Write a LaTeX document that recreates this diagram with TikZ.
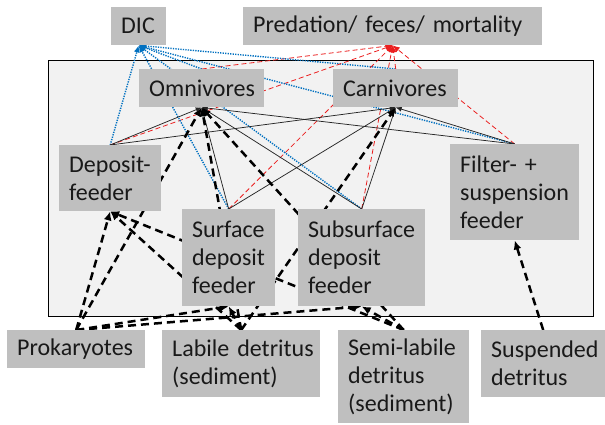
\documentclass[tikz,border=0pt]{standalone}
\usepackage{fontspec}
\setmainfont{Carlito}
\usetikzlibrary{arrows.meta}
\definecolor{boxgray}{RGB}{191,191,191}
\definecolor{zonegray}{RGB}{242,242,242}
\definecolor{dicblue}{RGB}{0,112,192}
\definecolor{predred}{RGB}{235,30,30}
\pgfdeclarelayer{back}
\pgfdeclarelayer{links}
\pgfsetlayers{back,links,main}
\begin{document}
\begin{tikzpicture}[x=1pt,y=-1pt,
  box/.style={fill=boxgray, anchor=north west, inner xsep=10pt, inner ysep=0pt,
    align=left, font=\fontsize{24}{28}\selectfont, text=black!90},
  resp/.style={dicblue, line width=1.4pt, dash pattern=on 1.3pt off 1.2pt,
    -{Latex[length=7pt,width=6pt]}},
  pred/.style={predred, line width=0.8pt, dash pattern=on 5pt off 3pt,
    -{Latex[length=7pt,width=6pt]}},
  eat/.style={black!85, line width=0.75pt, -{Latex[length=6pt,width=5pt]}},
  feed/.style={black, line width=2.5pt, dash pattern=on 8pt off 5pt,
    -{Latex[length=9pt,width=8pt]}},
]
\useasboundingbox (0,0) rectangle (605,424);

\begin{pgfonlayer}{back}
\node[draw=black, line width=1pt, fill=zonegray, anchor=north west,
  minimum width=545pt, minimum height=256pt, inner sep=0pt] (zone) at (48,60) {};
\end{pgfonlayer}

\node[box, text width=35pt, minimum height=38pt] (dic) at (111,7) {DIC};
\node[box, text width=279pt, minimum height=38pt] (pfm) at (243,7) {Predation/ feces/ mortality};
\node[box, text width=105pt, minimum height=38pt] (omni) at (139,69) {Omnivores};
\node[box, text width=105pt, minimum height=38pt] (carn) at (333,69) {Carnivores};
\node[box, text width=82pt, minimum height=66pt] (depo) at (59,145) {Deposit-\\feeder};
\node[box, text width=73pt, minimum height=97pt] (surf) at (182,209) {Surface\\deposit\\feeder};
\node[box, text width=107pt, minimum height=97pt] (subs) at (298,209) {Subsurface\\deposit\\feeder};
\node[box, text width=109pt, minimum height=96pt] (filt) at (450,144) {Filter- +\\suspension\\feeder};
\node[box, text width=118pt, minimum height=38pt] (prok) at (7,330) {Prokaryotes};
\node[box, text width=138pt, minimum height=67pt] (labi) at (162,330) {\mbox{Labile detritus}\\(sediment)};
\node[box, text width=111pt, minimum height=93pt] (semi) at (338,330) {Semi-labile\\detritus\\(sediment)};
\node[box, text width=104pt, minimum height=67pt] (susp) at (481,330) {Suspended\\detritus};

\begin{pgfonlayer}{links}
\foreach \n in {omni,carn,depo,surf,subs,filt} {
  \draw[resp] (\n.north) -- (dic.south);
  \draw[pred] (\n.north) -- (pfm.south);
}
\foreach \n in {depo,surf,subs,filt} {
  \draw[eat] (\n.north) -- (omni.south);
  \draw[eat] (\n.north) -- (carn.south);
}
\draw[feed] (prok.north) -- (depo.south);
\draw[feed] (prok.north) -- (omni.south);
\draw[feed] (prok.north) -- (surf.south);
\draw[feed] (prok.north) -- (subs.south);
\draw[feed] (labi.north) -- (depo.south);
\draw[feed] (labi.north) -- (omni.south);
\draw[feed] (labi.north) -- (carn.south);
\draw[feed] (labi.north) -- (surf.south);
\draw[feed] (semi.north) -- (depo.south);
\draw[feed] (semi.north) -- (omni.south);
\draw[feed] (semi.north) -- (subs.south);
\draw[feed] (susp.north) -- (filt.south);
\end{pgfonlayer}
\end{tikzpicture}
\end{document}
